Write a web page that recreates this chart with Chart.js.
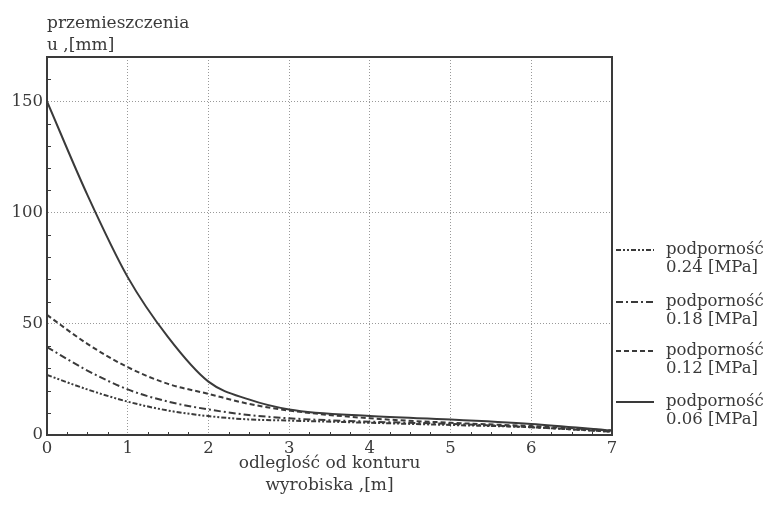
<!doctype html>
<html>
<head>
	<title>Przemieszczenia</title>
	<script src="https://cdn.jsdelivr.net/npm/chart.js@4.4.0/dist/chart.umd.min.js"></script>
	<style>
	body { margin: 0; background: #fff; }
	#wrap { width: 766px; height: 508px; position: relative; }
	</style>
</head>
<body>
	<div id="wrap"><canvas id="canvas"></canvas></div>
	<script>
		// odleglosc od konturu [m]
		var distance = [0, 0.5, 1, 1.5, 2, 2.5, 3, 4, 5, 6, 7];
		// przemieszczenia u [mm] dla kolejnych podpornosci
		var u006 = [150, 108, 71, 44, 24, 16, 11.5, 8.5, 7, 5, 2];
		var u012 = [54, 41, 30.5, 23, 18.5, 14, 11, 7.5, 5.5, 4, 2];
		var u018 = [39.5, 29, 20.5, 15, 11.5, 9, 7.5, 6, 5, 3.5, 1.5];
		var u024 = [27, 20.5, 15, 11, 8.5, 7, 6.5, 5.5, 4.5, 3.5, 1.5];
		var seriesLabels = ['0.24 [MPa]', '0.18 [MPa]', '0.12 [MPa]', '0.06 [MPa]'];
		var xTicks = [0, 1, 2, 3, 4, 5, 6, 7];
		var yTicks = [0, 50, 100, 150];

		var ink = '#3a3a3a';
		var fontFam = '"DejaVu Serif", "Liberation Serif", serif';

		function pts(ys) {
			return ys.map(function(y, i) { return { x: distance[i], y: y }; });
		}

		function ds(label, ys, dash) {
			return {
				label: label,
				data: pts(ys),
				borderColor: ink,
				borderWidth: 2,
				borderDash: dash,
				pointRadius: 0,
				fill: false,
				cubicInterpolationMode: 'monotone'
			};
		}

		var extras = {
			id: 'extras',
			afterDraw: function(chart) {
				var ctx = chart.ctx, a = chart.chartArea;
				var xs = chart.scales.x, ys = chart.scales.y;
				ctx.save();
				ctx.strokeStyle = ink;
				ctx.lineWidth = 2;
				ctx.setLineDash([]);
				// top and right frame
				ctx.beginPath();
				ctx.moveTo(a.left, a.top); ctx.lineTo(a.right, a.top); ctx.lineTo(a.right, a.bottom);
				ctx.stroke();
				// minor ticks
				ctx.lineWidth = 1;
				ctx.beginPath();
				for (var v = 10; v <= 160; v += 10) {
					if (v % 50 === 0) continue;
					var py = Math.round(ys.getPixelForValue(v)) + 0.5;
					ctx.moveTo(a.left, py); ctx.lineTo(a.left + 4, py);
				}
				for (var q = 0.25; q < 7; q += 0.25) {
					if (q % 1 === 0) continue;
					var px = Math.round(xs.getPixelForValue(q)) + 0.5;
					ctx.moveTo(px, a.bottom); ctx.lineTo(px, a.bottom - 3);
				}
				ctx.stroke();
				// axis titles
				ctx.fillStyle = ink;
				ctx.font = '17px ' + fontFam;
				ctx.textAlign = 'left';
				ctx.textBaseline = 'alphabetic';
				ctx.fillText('przemieszczenia', 47, 28);
				ctx.fillText('u ,[mm]', 47, 50);
				ctx.textAlign = 'center';
				var cx = (a.left + a.right) / 2;
				ctx.fillText('odleglość od konturu', cx, 468);
				ctx.fillText('wyrobiska ,[m]', cx, 490);
				// legend
				var order = [3, 2, 1, 0];
				var rows = [250, 302, 351, 402];
				ctx.font = '16.5px ' + fontFam;
				ctx.textAlign = 'left';
				ctx.textBaseline = 'middle';
				order.forEach(function(di, k) {
					var d = chart.data.datasets[di];
					var y = rows[k];
					ctx.setLineDash(d.borderDash || []);
					ctx.lineWidth = 2;
					ctx.beginPath();
					ctx.moveTo(616, y); ctx.lineTo(654, y);
					ctx.stroke();
					ctx.setLineDash([]);
					ctx.fillText('podporność', 666, y);
					ctx.fillText(d.label, 666, y + 18);
				});
				ctx.restore();
			}
		};

		window.onload = function() {
			var ctx = document.getElementById('canvas').getContext('2d');
			window.myChart = new Chart(ctx, {
				type: 'line',
				data: {
					datasets: [
						ds(seriesLabels[3], u006, []),
						ds(seriesLabels[2], u012, [5, 3]),
						ds(seriesLabels[1], u018, [7, 3, 2, 3]),
						ds(seriesLabels[0], u024, [5, 2, 2, 2, 2, 2])
					]
				},
				plugins: [extras],
				options: {
					responsive: true,
					maintainAspectRatio: false,
					animation: false,
					layout: { padding: { top: 57, right: 154, left: 0, bottom: 0 } },
					plugins: { legend: { display: false }, tooltip: { enabled: false } },
					scales: {
						x: {
							type: 'linear',
							min: 0, max: 7,
							afterFit: function(s) { s.height = 73; },
							afterBuildTicks: function(s) { s.ticks = xTicks.map(function(v) { return { value: v }; }); },
							ticks: { color: ink, font: { family: fontFam, size: 16.5 }, padding: 4, maxRotation: 0 },
							grid: {
								drawTicks: false,
								color: function(c) { return (c.tick && (c.tick.value === 0 || c.tick.value === 7)) ? 'rgba(0,0,0,0)' : '#999'; }
							},
							border: { display: true, color: ink, width: 2, dash: [1, 2] }
						},
						y: {
							min: 0, max: 170,
							afterFit: function(s) { s.width = 47; },
							afterBuildTicks: function(s) { s.ticks = yTicks.map(function(v) { return { value: v }; }); },
							ticks: { color: ink, font: { family: fontFam, size: 16.5 }, padding: 4 },
							grid: {
								drawTicks: false,
								color: function(c) { return (c.tick && c.tick.value === 0) ? 'rgba(0,0,0,0)' : '#999'; }
							},
							border: { display: true, color: ink, width: 2, dash: [1, 2] }
						}
					}
				}
			});
		};
	</script>
</body>
</html>
